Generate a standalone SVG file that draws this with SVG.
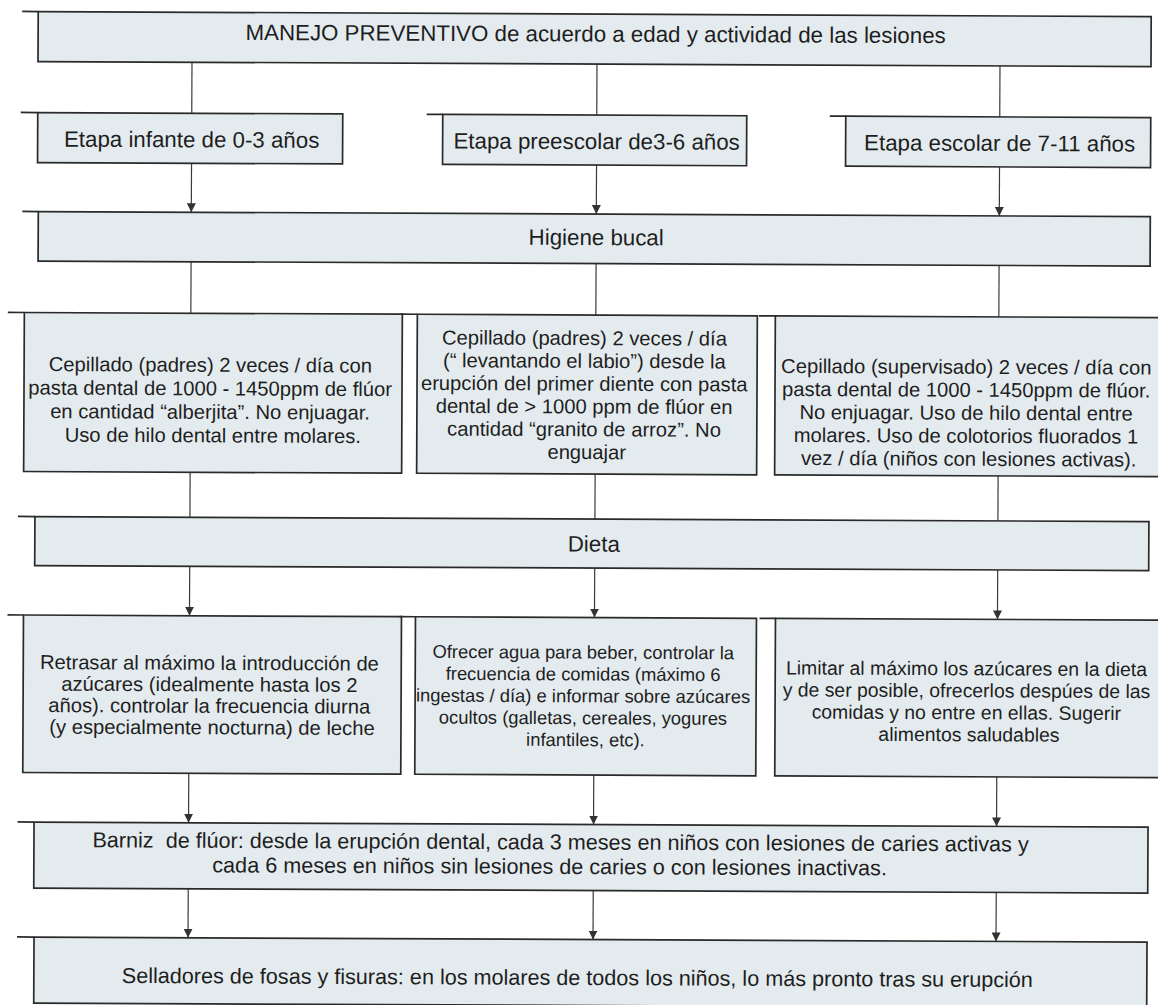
<svg xmlns="http://www.w3.org/2000/svg" width="1158" height="1005" viewBox="0 0 1158 1005">
  <defs>
    <marker id="arrow" markerUnits="userSpaceOnUse" markerWidth="9" markerHeight="9" refX="9" refY="4.5" orient="auto">
      <path d="M0,0 L9,4.5 L0,9 Z" fill="#333"/>
    </marker>
    <style>
      .box{fill:#e4ebef;stroke:#2a2a2a;stroke-width:1.7}
      .ext{stroke:#2a2a2a;stroke-width:1.7}
      .t{font-family:"Liberation Sans",Arial,Helvetica,sans-serif;fill:#1e1e1e}
      .h{font-size:22.3px;text-anchor:middle}
      .b{font-size:20.2px;text-anchor:middle}
      .bs{font-size:18.4px;text-anchor:middle}
      .bm{font-size:19.4px;text-anchor:middle}
      .w{font-size:21.6px}
      .link{stroke:#3a3a3a;stroke-width:1.2;fill:none}
      .arr{marker-end:url(#arrow)}
    </style>
  </defs>
  <rect width="1158" height="1005" fill="#ffffff"/>
  <!-- whole sheet sits at a slight tilt -->
  <g transform="rotate(0.26 579 502)">
    <!-- connectors -->
    <g id="connectors">
      <line class="link" x1="190" y1="64" x2="190" y2="115"/>
      <line class="link" x1="595" y1="64" x2="595" y2="115"/>
      <line class="link" x1="998" y1="64" x2="998" y2="115"/>
      <line class="link arr" x1="190" y1="165" x2="190" y2="214"/>
      <line class="link arr" x1="595" y1="165" x2="595" y2="214"/>
      <line class="link arr" x1="998" y1="165" x2="998" y2="214"/>
      <line class="link" x1="190" y1="263.5" x2="190" y2="315"/>
      <line class="link" x1="595" y1="263.5" x2="595" y2="315"/>
      <line class="link" x1="998" y1="263.5" x2="998" y2="315"/>
      <line class="link" x1="190" y1="474" x2="190" y2="519"/>
      <line class="link" x1="595" y1="474" x2="595" y2="519"/>
      <line class="link" x1="998" y1="474" x2="998" y2="519"/>
      <line class="link arr" x1="190" y1="568" x2="190" y2="617.5"/>
      <line class="link arr" x1="595" y1="568" x2="595" y2="617.5"/>
      <line class="link arr" x1="998" y1="568" x2="998" y2="617.5"/>
      <line class="link arr" x1="190" y1="775" x2="190" y2="824.5"/>
      <line class="link arr" x1="595" y1="775" x2="595" y2="824.5"/>
      <line class="link arr" x1="998" y1="775" x2="998" y2="824.5"/>
      <line class="link arr" x1="190" y1="890.5" x2="190" y2="939.5"/>
      <line class="link arr" x1="595" y1="890.5" x2="595" y2="939.5"/>
      <line class="link arr" x1="998" y1="890.5" x2="998" y2="939.5"/>
    </g>

    <g id="manejo">
      <rect class="box" x="36" y="14" width="1113" height="50"/>
      <line class="ext" x1="20" y1="14" x2="36" y2="14"/>
      <text class="t h" x="593.5" y="41.5">MANEJO PREVENTIVO de acuerdo a edad y actividad de las lesiones</text>
    </g>

    <g id="etapa-infante">
      <rect class="box" x="36" y="115" width="305" height="50"/>
      <line class="ext" x1="19" y1="115" x2="36" y2="115"/>
      <text class="t h" x="190" y="149">Etapa infante de 0-3 años</text>
    </g>
    <g id="etapa-preescolar">
      <rect class="box" x="441" y="115" width="304" height="50"/>
      <line class="ext" x1="425" y1="115" x2="441" y2="115"/>
      <text class="t h" x="595" y="149">Etapa preescolar de3-6 años</text>
    </g>
    <g id="etapa-escolar">
      <rect class="box" x="844" y="115" width="305" height="50"/>
      <line class="ext" x1="828" y1="115" x2="844" y2="115"/>
      <text class="t h" x="998" y="149">Etapa escolar de 7-11 años</text>
    </g>

    <g id="higiene">
      <rect class="box" x="37" y="214" width="1112" height="49.5"/>
      <line class="ext" x1="21" y1="214" x2="37" y2="214"/>
      <text class="t h" x="595" y="245">Higiene bucal</text>
    </g>

    <g id="cepillado-infante">
      <rect class="box" x="23.5" y="315" width="378" height="159"/>
      <line class="ext" x1="7" y1="315" x2="23.5" y2="315"/>
      <text class="t b">
        <tspan x="212.5" y="373.5">Cepillado (padres) 2 veces / día con</tspan>
        <tspan x="212.5" y="397">pasta dental de 1000 - 1450ppm de flúor</tspan>
        <tspan x="212.5" y="420.5">en cantidad “alberjita”. No enjuagar.</tspan>
        <tspan x="212.5" y="444">Uso de hilo dental entre molares.</tspan>
      </text>
    </g>
    <g id="cepillado-preescolar">
      <rect class="box" x="416.5" y="315" width="340" height="159"/>
      <line class="ext" x1="400" y1="315" x2="416.5" y2="315"/>
      <text class="t b">
        <tspan x="586.5" y="345">Cepillado (padres) 2 veces / día</tspan>
        <tspan x="586.5" y="367.8">(“ levantando el labio”) desde la</tspan>
        <tspan x="586.5" y="390.6">erupción del primer diente con pasta</tspan>
        <tspan x="586.5" y="413.4">dental de &gt; 1000 ppm de flúor en</tspan>
        <tspan x="586.5" y="436.2">cantidad “granito de arroz”. No</tspan>
        <tspan x="586.5" y="459">enguajar</tspan>
      </text>
    </g>
    <g id="cepillado-escolar">
      <rect class="box" x="774.5" y="315" width="390" height="159"/>
      <line class="ext" x1="758" y1="315" x2="774.5" y2="315"/>
      <text class="t b">
        <tspan x="968.5" y="372">Cepillado (supervisado) 2 veces / día con</tspan>
        <tspan x="968.5" y="395">pasta dental de 1000 - 1450ppm de flúor.</tspan>
        <tspan x="968.5" y="418">No enjuagar. Uso de hilo dental entre</tspan>
        <tspan x="968.5" y="441">molares. Uso de colotorios fluorados 1</tspan>
        <tspan x="968.5" y="464">vez / día (niños con lesiones activas).</tspan>
      </text>
    </g>

    <g id="dieta">
      <rect class="box" x="35" y="519" width="1114" height="49"/>
      <line class="ext" x1="18" y1="519" x2="35" y2="519"/>
      <text class="t h" x="594" y="551.5">Dieta</text>
    </g>

    <g id="dieta-infante">
      <rect class="box" x="24" y="617.5" width="378" height="157.5"/>
      <line class="ext" x1="8" y1="617.5" x2="24" y2="617.5"/>
      <text class="t b">
        <tspan x="213" y="671.5">Retrasar al máximo la introducción de</tspan>
        <tspan x="213" y="693">azúcares (idealmente hasta los 2</tspan>
        <tspan x="213" y="714.5">años). controlar la frecuencia diurna</tspan>
        <tspan x="213" y="736">(y especialmente nocturna) de leche</tspan>
      </text>
    </g>
    <g id="dieta-preescolar">
      <rect class="box" x="416" y="617.5" width="341" height="157.5"/>
      <line class="ext" x1="400" y1="617.5" x2="416" y2="617.5"/>
      <text class="t bs">
        <tspan x="586.5" y="658.5">Ofrecer agua para beber, controlar la</tspan>
        <tspan x="586.5" y="680.4">frecuencia de comidas (máximo 6</tspan>
        <tspan x="586.5" y="702.3">ingestas / día) e informar sobre azúcares</tspan>
        <tspan x="586.5" y="724.2">ocultos (galletas, cereales, yogures</tspan>
        <tspan x="586.5" y="746.1">infantiles, etc).</tspan>
      </text>
    </g>
    <g id="dieta-escolar">
      <rect class="box" x="776" y="617.5" width="390" height="157.5"/>
      <line class="ext" x1="760" y1="617.5" x2="776" y2="617.5"/>
      <text class="t bm">
        <tspan x="970" y="673.5">Limitar al máximo los azúcares en la dieta</tspan>
        <tspan x="970" y="695.5">y de ser posible, ofrecerlos despúes de las</tspan>
        <tspan x="970" y="717.5">comidas y no entre en ellas. Sugerir</tspan>
        <tspan x="970" y="739.5">alimentos saludables</tspan>
      </text>
    </g>

    <g id="barniz">
      <rect class="box" x="35.5" y="824.5" width="1114" height="66"/>
      <line class="ext" x1="19" y1="824.5" x2="35.5" y2="824.5"/>
      <text class="t w" xml:space="preserve" x="94" y="849.5">Barniz  de flúor: desde la erupción dental, cada 3 meses en niños con lesiones de caries activas y</text>
      <text class="t w" x="214" y="874">cada 6 meses en niños sin lesiones de caries o con lesiones inactivas.</text>
    </g>

    <g id="selladores">
      <rect class="box" x="36" y="939.5" width="1113" height="66"/>
      <line class="ext" x1="19" y1="939.5" x2="36" y2="939.5"/>
      <text class="t w" x="124" y="985">Selladores de fosas y fisuras: en los molares de todos los niños, lo más pronto tras su erupción</text>
    </g>
  </g>
</svg>
